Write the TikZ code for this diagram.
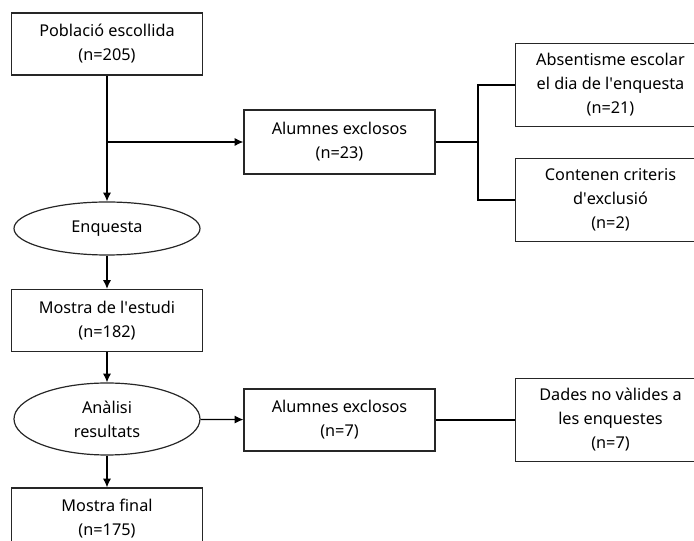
\documentclass[tikz,border=0pt]{standalone}
\usepackage{fontspec}
\setmainfont{Noto Sans}
\usetikzlibrary{shapes.geometric,arrows.meta}

\tikzset{
    caixa/.style={draw=black!85, line width=0.9pt, align=center, minimum width=143.25pt, minimum height=46.5pt, inner sep=2pt},
    caixadreta/.style={caixa, minimum width=142.5pt, minimum height=62.25pt},
    oval/.style={ellipse, draw=black!85, line width=0.9pt, align=center, minimum width=139.5pt, minimum height=39.75pt, inner sep=1pt},
    fletxa/.style={line width=0.9pt, -{Latex[length=6.5pt,width=6pt]}},
    linia/.style={line width=0.9pt}
}

\begin{document}
\begin{tikzpicture}[x=0.75pt, y=-0.75pt, font=\fontsize{12.2}{18}\selectfont]
    \useasboundingbox (0,0) rectangle (694,541);

    % Main column
    \node[caixa] (pob) at (107,44) {Població escollida\\(n=205)};
    \node[oval] (enq) at (107,228.5) {Enquesta};
    \node[caixa] (mos) at (107,320.5) {Mostra de l\textquotesingle estudi\\(n=182)};
    \node[oval, minimum height=54pt] (ana) at (107,419) {Anàlisi\\resultats};
    \node[caixa] (fin) at (107,519) {Mostra final\\(n=175)};

    % Excluded students
    \node[caixa, minimum height=48pt] (exc1) at (339.5,142) {Alumnes exclosos\\(n=23)};
    \node[caixa] (exc2) at (339.5,420) {Alumnes exclosos\\(n=7)};

    % Reasons
    \node[caixadreta] (abs) at (610.5,85) {Absentisme escolar\\el dia de l\textquotesingle enquesta\\(n=21)};
    \node[caixadreta] (con) at (610.5,200) {Contenen criteris\\d\textquotesingle exclusió\\(n=2)};
    \node[caixadreta] (dad) at (610.5,420) {Dades no vàlides a\\les enquestes\\(n=7)};

    % Connectors
    \coordinate (br) at (107,142);
    \coordinate (fork) at (478,142);
    \draw[linia] (pob) -- (br);
    \draw[fletxa] (br) -- (enq);
    \draw[fletxa] (br) -- (exc1);
    \draw[fletxa] (enq) -- (mos);
    \draw[fletxa] (mos) -- (ana);
    \draw[fletxa] (ana) -- (fin);
    \draw[fletxa] (ana) -- (exc2);
    \draw[linia] (exc1) -- (fork);
    \draw[linia] (abs.west) -| (fork) |- (con.west);
    \draw[linia] (exc2) -- (dad);
\end{tikzpicture}
\end{document}
